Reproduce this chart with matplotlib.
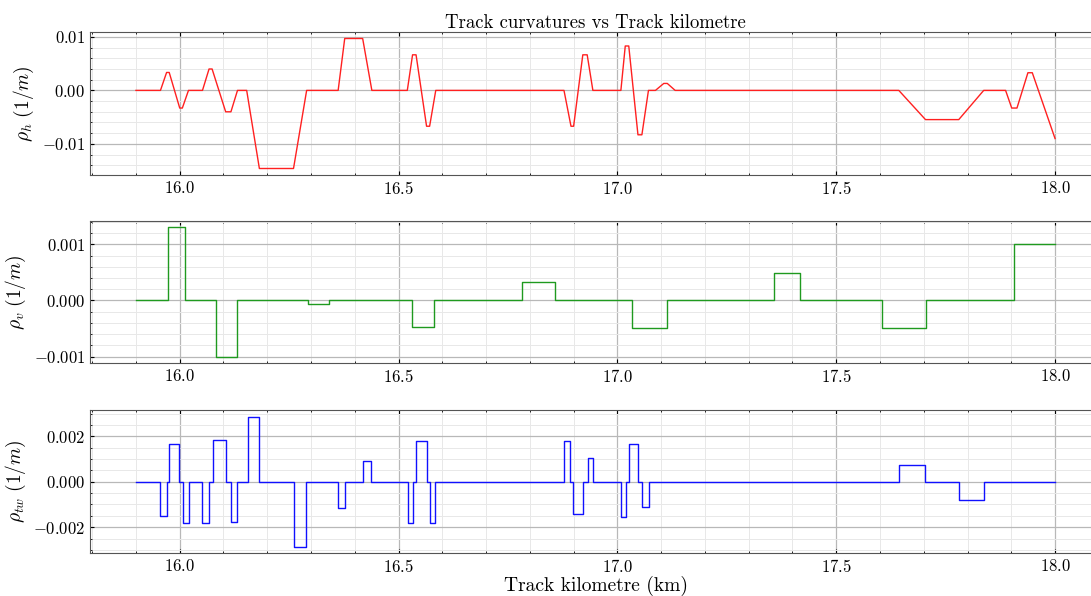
import matplotlib
matplotlib.use("Agg")
import matplotlib.pyplot as plt
from matplotlib.ticker import MultipleLocator

plt.rcParams['font.family'] = ['cmr10', 'DejaVu Serif']
plt.rcParams['mathtext.fontset'] = 'cm'
plt.rcParams['axes.formatter.use_mathtext'] = True
plt.rcParams['axes.unicode_minus'] = True

# Horizontal curvature (piecewise linear)
km_h = [15.9, 15.956, 15.970, 15.976, 16.0, 16.006, 16.020, 16.052, 16.067, 16.074,
        16.105, 16.117, 16.132, 16.153, 16.182, 16.260, 16.290, 16.362, 16.377, 16.418,
        16.439, 16.520, 16.532, 16.540, 16.564, 16.571, 16.585, 16.878, 16.894, 16.900,
        16.921, 16.931, 16.944, 17.008, 17.018, 17.026, 17.047, 17.056, 17.071, 17.087,
        17.106, 17.114, 17.132, 17.643, 17.704, 17.780, 17.837, 17.887, 17.901, 17.913,
        17.938, 17.948, 18.0]
rho_h = [0, 0, 0.00335, 0.00335, -0.0033, -0.0033, 0, 0, 0.0040, 0.0040,
         -0.0040, -0.0040, 0, 0, -0.0146, -0.0146, 0, 0, 0.0097, 0.0097,
         0, 0, 0.00665, 0.00665, -0.0067, -0.0067, 0, 0, -0.0067, -0.0067,
         0.00665, 0.00665, 0, 0, 0.0083, 0.0083, -0.0083, -0.0083, 0, 0,
         0.0013, 0.0013, 0, 0, -0.00546, -0.00546, 0, 0, -0.0033, -0.0033,
         0.0033, 0.0033, -0.009]

# Vertical curvature (step, value holds from each km to the next)
km_v = [15.9, 15.974, 16.013, 16.084, 16.130, 16.293, 16.340, 16.531, 16.580, 16.783,
        16.858, 17.034, 17.114, 17.358, 17.418, 17.605, 17.706, 17.906, 18.0]
rho_v = [0, 0.0013, 0, -0.001, 0, -0.00006, 0, -0.00048, 0, 0.00033,
         0, -0.00049, 0, 0.00049, 0, -0.00049, 0, 0.001, 0.001]

# Twist curvature (step)
km_tw = [15.9, 15.956, 15.970, 15.976, 15.999, 16.008, 16.021, 16.052, 16.066, 16.077,
         16.105, 16.118, 16.131, 16.155, 16.182, 16.261, 16.289, 16.361, 16.377, 16.419,
         16.438, 16.521, 16.532, 16.541, 16.564, 16.571, 16.584, 16.879, 16.891, 16.899,
         16.922, 16.932, 16.944, 17.008, 17.020, 17.027, 17.047, 17.056, 17.072, 17.644,
         17.704, 17.780, 17.838, 18.0]
rho_tw = [0, -0.00151, 0, 0.00164, 0, -0.0018, 0, -0.0018, 0, 0.00182,
          0, -0.00176, 0, 0.00287, 0, -0.00285, 0, -0.00115, 0, 0.0009,
          0, -0.0018, 0, 0.00179, 0, -0.0018, 0, 0.00179, 0, -0.00143,
          0, 0.00105, 0, -0.00157, 0, 0.00166, 0, -0.00112, 0, 0.00074,
          0, -0.00079, 0, 0]

W, H = 1091, 596
fig = plt.figure(figsize=(W / 100, H / 100), dpi=100)

def add_ax(top_px, bot_px):
    left, right = 90, 1101
    return fig.add_axes([left / W, 1 - bot_px / H, (right - left) / W, (bot_px - top_px) / H])

ax1 = add_ax(32, 175)
ax2 = add_ax(221, 363)
ax3 = add_ax(410, 553)

ax1.plot(km_h, rho_h, color='#ff2020', lw=1.0)
ax2.plot(km_v, rho_v, color='#1f9a1f', lw=1.0, drawstyle='steps-post')
ax3.plot(km_tw, rho_tw, color='#1010ff', lw=1.0, drawstyle='steps-post')

ax1.set_ylabel(r'$\rho_h\ (1/m)$', fontsize=14)
ax2.set_ylabel(r'$\rho_v\ (1/m)$', fontsize=14)
ax3.set_ylabel(r'$\rho_{tw}\ (1/m)$', fontsize=14)
ax1.set_title('Track curvatures vs Track kilometre', fontsize=13.5, pad=3)
ax3.set_xlabel('Track kilometre (km)', fontsize=14, labelpad=1)

ax1.yaxis.set_major_locator(MultipleLocator(0.01))
ax1.yaxis.set_minor_locator(MultipleLocator(0.002))
ax2.yaxis.set_major_locator(MultipleLocator(0.001))
ax2.yaxis.set_minor_locator(MultipleLocator(0.0002))
ax3.yaxis.set_major_locator(MultipleLocator(0.002))
ax3.yaxis.set_minor_locator(MultipleLocator(0.0005))

for ax in (ax1, ax2, ax3):
    ax.xaxis.set_major_locator(MultipleLocator(0.5))
    ax.xaxis.set_minor_locator(MultipleLocator(0.1))
    ax.grid(which='major', color='#b8b8b8', lw=0.9)
    ax.grid(which='minor', color='#e8e8e8', lw=0.7)
    ax.tick_params(which='both', direction='in', top=True, right=True, labelsize=12)
    ax.tick_params(which='major', length=3)
    ax.tick_params(which='minor', length=1.5)
    for s in ax.spines.values():
        s.set_color('#555555')
    ax.set_axisbelow(True)

fig.savefig('out.png', dpi=100)
